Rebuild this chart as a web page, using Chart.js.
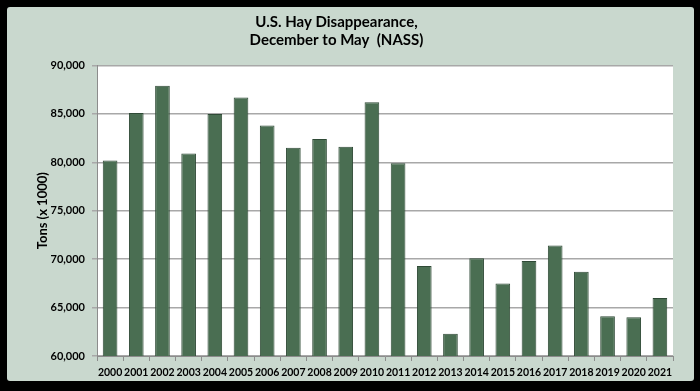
<!DOCTYPE html>
<html>
<head>
<meta charset="utf-8">
<script src="https://cdn.jsdelivr.net/npm/chart.js@4"></script>
<style>
  html, body { margin: 0; padding: 0; background: #000; }
  #wrap { width: 700px; height: 391px; }
</style>
</head>
<body>
<div id="wrap"><canvas id="c" width="700" height="391"></canvas></div>
<script>
const years = ['2000','2001','2002','2003','2004','2005','2006','2007','2008','2009','2010',
               '2011','2012','2013','2014','2015','2016','2017','2018','2019','2020','2021'];
const disappearance = [80200, 85100, 87900, 80900, 85000, 86700, 83800, 81500, 82400, 81600, 86200,
                       79900, 69300, 62300, 70100, 67500, 69800, 71400, 68700, 64100, 64000, 66000];
const titleLines = ['U.S. Hay Disappearance,', 'December to May  (NASS)'];
const yAxisTitle = 'Tons (x 1000)';

const framePlugin = {
  id: 'frame',
  beforeDraw(chart) {
    const ctx = chart.ctx;
    ctx.save();
    ctx.fillStyle = '#000';
    ctx.fillRect(0, 0, chart.width, chart.height);
    ctx.fillStyle = '#c9d8ce';
    ctx.beginPath();
    ctx.roundRect(7, 7, 687, 374, 3);
    ctx.fill();
    const a = chart.chartArea;
    ctx.fillStyle = '#fff';
    ctx.fillRect(a.left, a.top, a.right - a.left, a.bottom - a.top);
    ctx.restore();
  }
};

const FONT = 'Lato';
new Chart(document.getElementById('c'), {
  type: 'bar',
  data: {
    labels: years,
    datasets: [{
      data: disappearance,
      backgroundColor: '#4a6e52',
      borderColor: '#2f4a36',
      borderWidth: 1,
      categoryPercentage: 1,
      barPercentage: 0.56
    }]
  },
  plugins: [framePlugin],
  options: {
    responsive: false,
    animation: false,
    layout: { padding: { left: 0, right: 27, top: 0, bottom: 0 } },
    plugins: {
      legend: { display: false },
      tooltip: { enabled: false },
      title: {
        display: true,
        text: titleLines,
        color: '#000',
        font: { family: FONT, weight: 'bold', size: 15, lineHeight: 1.15 },
        padding: { top: 14, bottom: 17 }
      }
    },
    scales: {
      x: {
        offset: true,
        grid: { display: true, drawOnChartArea: false, offset: true, tickLength: 5, color: '#8c8c8c', lineWidth: 1 },
        border: { display: true, color: '#8c8c8c', width: 1 },
        ticks: { color: '#000', font: { family: FONT, weight: 'bold', size: 10.5 }, autoSkip: false, maxRotation: 0, minRotation: 0, padding: 5 },
        afterFit(scale) { scale.height = 35; }
      },
      y: {
        min: 60000,
        max: 90000,
        grid: { color: '#a8a8a8', lineWidth: 1.5, tickLength: 5 },
        border: { display: true, color: '#8c8c8c', width: 1 },
        ticks: {
          stepSize: 5000,
          color: '#000',
          padding: 7,
          font: { family: FONT, weight: 'bold', size: 11 },
          callback: v => v.toLocaleString('en-US')
        },
        title: {
          display: true,
          text: yAxisTitle,
          color: '#000',
          font: { family: FONT, weight: 'bold', size: 13 },
          padding: { top: 35, bottom: 0 }
        },
        afterFit(scale) { scale.width = 97; }
      }
    }
  }
});
</script>
</body>
</html>
